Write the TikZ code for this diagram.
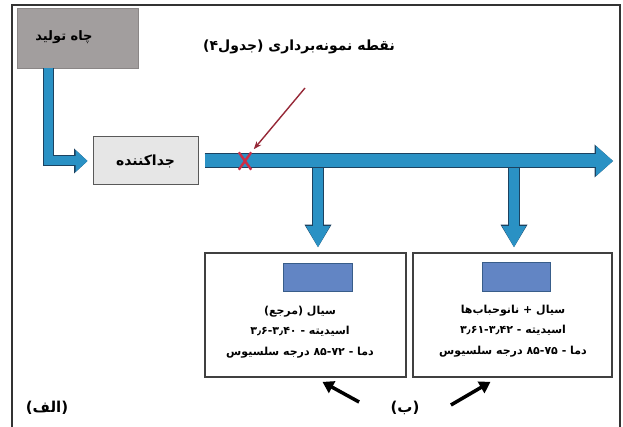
\documentclass[tikz,border=0pt]{standalone}
\usepackage{fontspec}
\usepackage{tikz}
\usetikzlibrary{arrows.meta, positioning, shapes.misc, calc}
\newfontfamily\fa[Script=Arabic]{DejaVu Sans}
\TeXXeTstate=1
\definecolor{pipeblue}{RGB}{42,145,196}
\definecolor{pipeedge}{RGB}{28,66,96}
\definecolor{wellgray}{RGB}{162,158,158}
\definecolor{sepgray}{RGB}{230,230,230}
\definecolor{tankblue}{RGB}{98,133,196}
\definecolor{tankedge}{RGB}{56,93,138}
\definecolor{sampred}{RGB}{205,45,70}
\definecolor{pointred}{RGB}{150,40,55}
\newcommand{\rtl}[1]{\beginR #1\endR}

\begin{document}
\begin{tikzpicture}[x=1pt, y=-1pt, font=\fa\bfseries\fontsize{13}{15}\selectfont]
    \useasboundingbox (0,0) rectangle (623,427);
    \tikzset{
        mainpipe/.style={draw=pipeblue, line width=13pt, -{Triangle[length=17pt,width=30pt,line width=0pt]},
            preaction={draw=pipeedge, line width=15pt, -{Triangle[length=18.5pt,width=33pt,line width=0pt]}}},
        branchpipe/.style={draw=pipeblue, line width=10pt, -{Triangle[length=21pt,width=24pt,line width=0pt]},
            preaction={draw=pipeedge, line width=12pt, -{Triangle[length=22.5pt,width=27pt,line width=0pt]}}},
        wellpipe/.style={draw=pipeblue, line width=9pt, -{Triangle[length=12pt,width=22pt,line width=0pt]},
            preaction={draw=pipeedge, line width=11pt, -{Triangle[length=13.5pt,width=25pt,line width=0pt]}}},
        labbox/.style={draw=black!75, line width=1.8pt, fill=white},
        tank/.style={draw=tankedge, line width=1pt, fill=tankblue},
        boxtext/.style={align=center, font=\fa\bfseries\fontsize{11}{20.5}\selectfont},
        pointer/.style={line width=3.5pt, -{Triangle[length=11pt,width=13pt]}}
    }

    % frame
    \draw[black!80, line width=1.2pt] (12,430) |- (620,5) -- (620,430);

    % well and separator
    \node[fill=wellgray, draw=wellgray!85!black, minimum width=121, minimum height=60] (well) at (77.5,38) {};
    \node (welltext) at (64,37) {\rtl{چاه تولید}};
    \node[fill=sepgray, draw=black!65, line width=1pt, minimum width=105, minimum height=48,
          font=\fa\bfseries\fontsize{14}{16}\selectfont] (sep) at (145.5,161) {\rtl{جداکننده}};
    \coordinate (wellout) at (48,68);
    \coordinate (mainend) at (613,161);
    \coordinate (tapA) at (318,165);
    \coordinate (tapB) at (514,165);

    % lab boxes
    \node[labbox, minimum width=201, minimum height=124] (refbox) at (305.5,315) {};
    \node[labbox, minimum width=199, minimum height=124] (nanobox) at (512.5,315) {};
    \node[tank, minimum width=69, minimum height=28] (reftank) at (317.5,278) {};
    \node[tank, minimum width=68, minimum height=29] (nanotank) at (516,277.5) {};
    \node[boxtext] (reftext) at (300,332)
        {\rtl{سیال (مرجع)}\\\rtl{اسیدیته - \beginL۳٫۶-۳٫۴۰\endL}\\\rtl{دما - \beginL۸۵-۷۲\endL{} درجه سلسیوس}};
    \node[boxtext] (nanotext) at (513,331)
        {\rtl{سیال + نانوحباب‌ها}\\\rtl{اسیدیته - \beginL۳٫۶۱-۳٫۴۲\endL}\\\rtl{دما - \beginL۸۵-۷۵\endL{} درجه سلسیوس}};

    % pipes
    \draw[branchpipe, shorten >=5pt] (tapA) -- (tapA |- refbox.north);
    \draw[branchpipe, shorten >=5pt] (tapB) -- (tapB |- nanobox.north);
    \draw[mainpipe, shorten <=6pt] (sep.east) -- (mainend);
    \draw[wellpipe, shorten >=5pt] (wellout) |- (sep.west);

    % sampling point
    \node[draw=sampred, cross out, line width=2.4pt, minimum width=10, minimum height=15, inner sep=0pt] (sampx) at (245,161) {};
    \node[font=\fa\bfseries\fontsize{14}{16}\selectfont] (samplabel) at (299,47) {\rtl{نقطه نمونه‌برداری (جدول۴)}};
    \coordinate (redtail) at (305,88);
    \draw[pointred, line width=1.4pt, -{Stealth[length=8pt,width=6pt]}, shorten >=4pt] (redtail) -- (sampx.north east);

    % labels
    \node[font=\fa\bfseries\fontsize{15}{17}\selectfont] (alabel) at (47,408) {\rtl{(الف)}};
    \node[font=\fa\bfseries\fontsize{15}{17}\selectfont] (blabel) at (405,408) {\rtl{(ب)}};
    \draw[pointer] ($(blabel.west)+(-28,-6)$) -- ($(refbox.south)+(17,4)$);
    \draw[pointer] ($(blabel.east)+(28,-3)$) -- ($(nanobox.south)+(-22,4)$);
\end{tikzpicture}
\end{document}
